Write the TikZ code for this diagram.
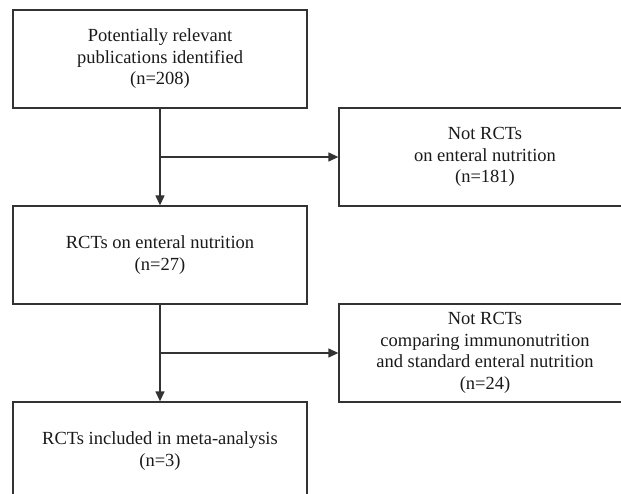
\documentclass[tikz,border=0pt]{standalone}
\usepackage{fontspec}
\setmainfont{Liberation Serif}
\usetikzlibrary{arrows.meta}
\definecolor{flussolinea}{HTML}{333333}
\definecolor{flussotesto}{HTML}{1A1A1A}
\newlength{\larghezza}
\setlength{\larghezza}{294pt}
\newlength{\altezza}
\setlength{\altezza}{98pt}
\tikzset{
  scatola/.style={draw=flussolinea, line width=1.3pt, text=flussotesto, align=center,
    minimum width=\larghezza, minimum height=\altezza, inner sep=0pt,
    font=\fontsize{18.5}{21.5}\selectfont},
  freccia/.style={draw=flussolinea, line width=1.3pt, -{Triangle[length=10pt,width=9pt]}}
}

\begin{document}
\begin{tikzpicture}[x=1pt,y=-1pt]

  % ---- Cornice (i box a destra e in basso escono dal foglio) ------------
  \useasboundingbox (0,0) rectangle (621,494);
  \fill[white] (0,0) rectangle (621,494);
  \clip (0,0) rectangle (621,494);

  % ---- Colonna sinistra: selezione degli studi ---------------------------
  \node[scatola] (pubblicazioni) at (160,59)
    {Potentially relevant\\publications identified\\(n=208)};
  \node[scatola] (rct) at (160,255)
    {RCTs on enteral nutrition\\(n=27)};
  \node[scatola] (inclusi) at (160,451)
    {RCTs included in meta-analysis\\(n=3)};

  % ---- Colonna destra: esclusi -------------------------------------------
  \node[scatola, minimum width=292pt] (esclusiA) at (485,157)
    {Not RCTs\\on enteral nutrition\\(n=181)};
  \node[scatola, minimum width=292pt] (esclusiB) at (485,353)
    {Not RCTs\\comparing immunonutrition\\and standard enteral nutrition\\(n=24)};

  % ---- Frecce --------------------------------------------------------------
  \draw[freccia] (pubblicazioni) -- (rct);
  \draw[freccia] (rct) -- (inclusi);

  \coordinate (biforcazioneA) at (pubblicazioni.south |- esclusiA.west);
  \coordinate (biforcazioneB) at (rct.south |- esclusiB.west);
  \draw[freccia] (biforcazioneA) -- (esclusiA);
  \draw[freccia] (biforcazioneB) -- (esclusiB);

\end{tikzpicture}
\end{document}
